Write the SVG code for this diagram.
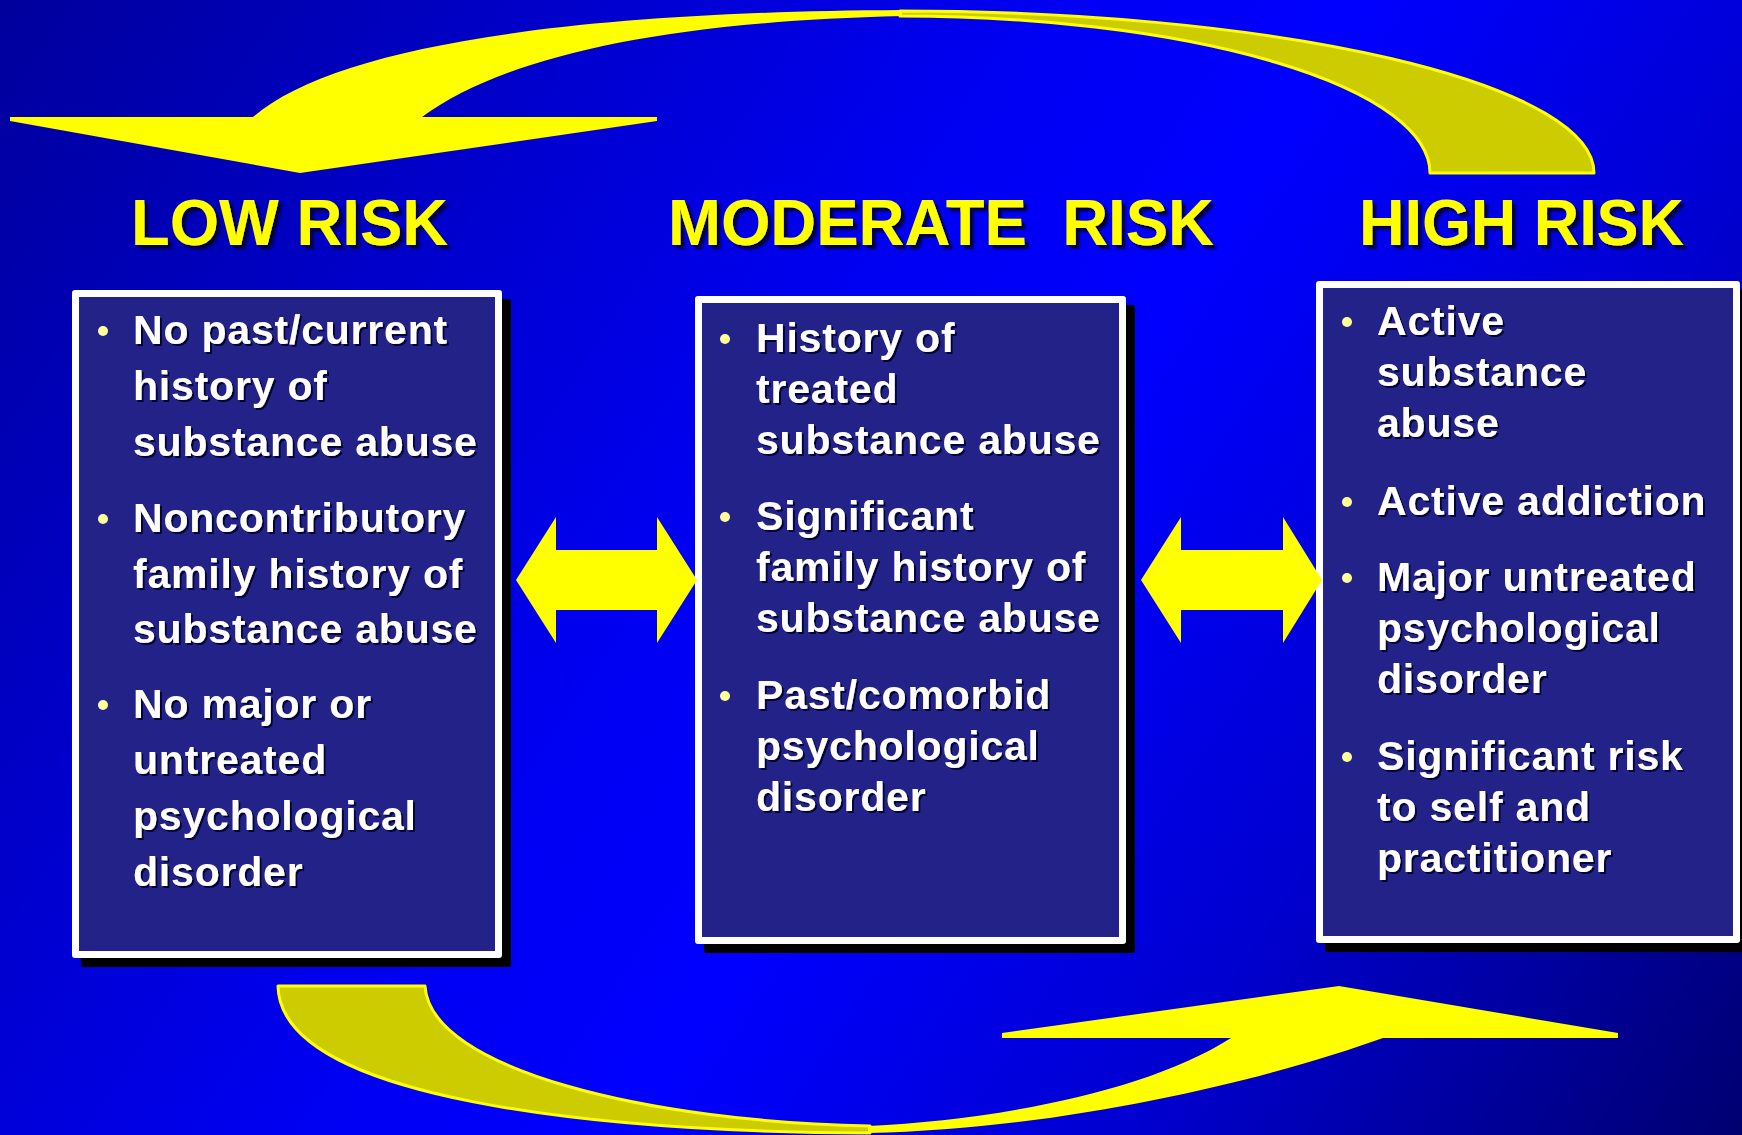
<svg xmlns="http://www.w3.org/2000/svg" width="1742" height="1135" viewBox="0 0 1742 1135">
  <defs>
    <linearGradient id="bg" x1="0" y1="0" x2="1742" y2="1135" gradientUnits="userSpaceOnUse">
      <stop offset="0" stop-color="#00009C"/>
      <stop offset="0.42" stop-color="#0000F2"/>
      <stop offset="0.55" stop-color="#0000FF"/>
      <stop offset="0.75" stop-color="#0000D0"/>
      <stop offset="1" stop-color="#000070"/>
    </linearGradient>
    <filter id="titleShadow" x="-5%" y="-20%" width="115%" height="150%">
      <feDropShadow dx="4" dy="4" stdDeviation="0.8" flood-color="#00004A" flood-opacity="1"/>
    </filter>
    <filter id="textShadow" x="-5%" y="-20%" width="115%" height="150%">
      <feDropShadow dx="2" dy="2" stdDeviation="0.6" flood-color="#05052E" flood-opacity="0.9"/>
    </filter>
  </defs>
  <style>
    .title { font-family: "Liberation Sans", Arial, sans-serif; font-weight: bold; font-size: 65px; fill: #FFFF00; filter: url(#titleShadow); }
    .body { font-family: "Liberation Sans", Arial, sans-serif; font-weight: bold; font-size: 41px; letter-spacing: 0.8px; fill: #FFFFFF; filter: url(#textShadow); }
    .frame { fill: #FFFFFF; }
    .panel { fill: #222288; }
    .shadow { fill: #000000; }
    .bullet { fill: #FFFF99; }
    .bright { fill: #FFFF00; }
    .ribbon { fill: #CCCC00; stroke: #FFFF00; stroke-width: 3; stroke-linejoin: round; }
  </style>

  <rect x="0" y="0" width="1742" height="1135" fill="url(#bg)"/>

  <!-- Low risk column -->
  <g id="low-risk">
    <text class="title" x="131" y="245" textLength="317" lengthAdjust="spacingAndGlyphs">LOW RISK</text>
    <rect class="shadow" x="81" y="299" width="430" height="668" rx="3"/>
    <rect class="frame" x="72" y="290" width="430" height="668" rx="3"/>
    <rect class="panel" x="79" y="297" width="416" height="654"/>
    <circle class="bullet" cx="103" cy="331" r="5"/>
    <circle class="bullet" cx="103" cy="519" r="5"/>
    <circle class="bullet" cx="103" cy="705" r="5"/>
    <text class="body" x="133" y="344">No past/current</text>
    <text class="body" x="133" y="400">history of</text>
    <text class="body" x="133" y="456">substance abuse</text>
    <text class="body" x="133" y="532">Noncontributory</text>
    <text class="body" x="133" y="588">family history of</text>
    <text class="body" x="133" y="643">substance abuse</text>
    <text class="body" x="133" y="718">No major or</text>
    <text class="body" x="133" y="774">untreated</text>
    <text class="body" x="133" y="830">psychological</text>
    <text class="body" x="133" y="886">disorder</text>
  </g>

  <!-- Moderate risk column -->
  <g id="moderate-risk">
    <text class="title" x="668" y="245" textLength="546" lengthAdjust="spacingAndGlyphs" xml:space="preserve">MODERATE  RISK</text>
    <rect class="shadow" x="704" y="305" width="431" height="648" rx="3"/>
    <rect class="frame" x="695" y="296" width="431" height="648" rx="3"/>
    <rect class="panel" x="702" y="303" width="417" height="634"/>
    <circle class="bullet" cx="725" cy="339" r="5"/>
    <circle class="bullet" cx="725" cy="517" r="5"/>
    <circle class="bullet" cx="725" cy="696" r="5"/>
    <text class="body" x="756" y="352">History of</text>
    <text class="body" x="756" y="403">treated</text>
    <text class="body" x="756" y="454">substance abuse</text>
    <text class="body" x="756" y="530">Significant</text>
    <text class="body" x="756" y="581">family history of</text>
    <text class="body" x="756" y="632">substance abuse</text>
    <text class="body" x="756" y="709">Past/comorbid</text>
    <text class="body" x="756" y="760">psychological</text>
    <text class="body" x="756" y="811">disorder</text>
  </g>

  <!-- High risk column -->
  <g id="high-risk">
    <text class="title" x="1359" y="245" textLength="325" lengthAdjust="spacingAndGlyphs">HIGH RISK</text>
    <rect class="shadow" x="1325" y="290" width="424" height="662" rx="3"/>
    <rect class="frame" x="1316" y="281" width="424" height="662" rx="3"/>
    <rect class="panel" x="1323" y="288" width="410" height="648"/>
    <circle class="bullet" cx="1347" cy="322" r="5"/>
    <circle class="bullet" cx="1347" cy="502" r="5"/>
    <circle class="bullet" cx="1347" cy="578" r="5"/>
    <circle class="bullet" cx="1347" cy="757" r="5"/>
    <text class="body" x="1377" y="335">Active</text>
    <text class="body" x="1377" y="386">substance</text>
    <text class="body" x="1377" y="437">abuse</text>
    <text class="body" x="1377" y="515">Active addiction</text>
    <text class="body" x="1377" y="591">Major untreated</text>
    <text class="body" x="1377" y="642">psychological</text>
    <text class="body" x="1377" y="693">disorder</text>
    <text class="body" x="1377" y="770">Significant risk</text>
    <text class="body" x="1377" y="821">to self and</text>
    <text class="body" x="1377" y="872">practitioner</text>
  </g>

  <!-- Arrows between and around the columns -->
  <g id="connectors">
    <!-- two-way arrows between adjacent columns -->
    <path class="bright" d="M516,580 L556,517 L556,550 L657,550 L657,517 L697,580 L657,643 L657,610 L556,610 L556,643 Z"/>
    <path class="bright" d="M1141,580 L1181,517 L1181,550 L1283,550 L1283,517 L1322,580 L1283,643 L1283,610 L1181,610 L1181,643 Z"/>

    <!-- upper sweep: high risk back to low risk -->
    <path class="ribbon" d="M900,11 A694 162 0 0 1 1594,173 L1430,173 A530 157 0 0 0 900,16 Z"/>
    <path class="bright" d="M253,117 C330,50 550,12 902,10 L902,16 C650,22 500,60 422,117 Z"/>
    <path class="bright" d="M10,117 L657,117 L657,121 L300,173 L10,121 Z"/>

    <!-- lower sweep: low risk on to high risk -->
    <path class="ribbon" d="M278,986 C280,1100 600,1132 870,1133 L870,1126 C650,1122 430,1070 425,986 Z"/>
    <path class="bright" d="M868,1133 C1080,1128 1280,1075 1383,1038 L1231,1038 C1150,1090 1000,1120 868,1126 Z"/>
    <path class="bright" d="M1002,1033 L1339,986 L1618,1033 L1618,1038 L1002,1038 Z"/>
  </g>
</svg>
